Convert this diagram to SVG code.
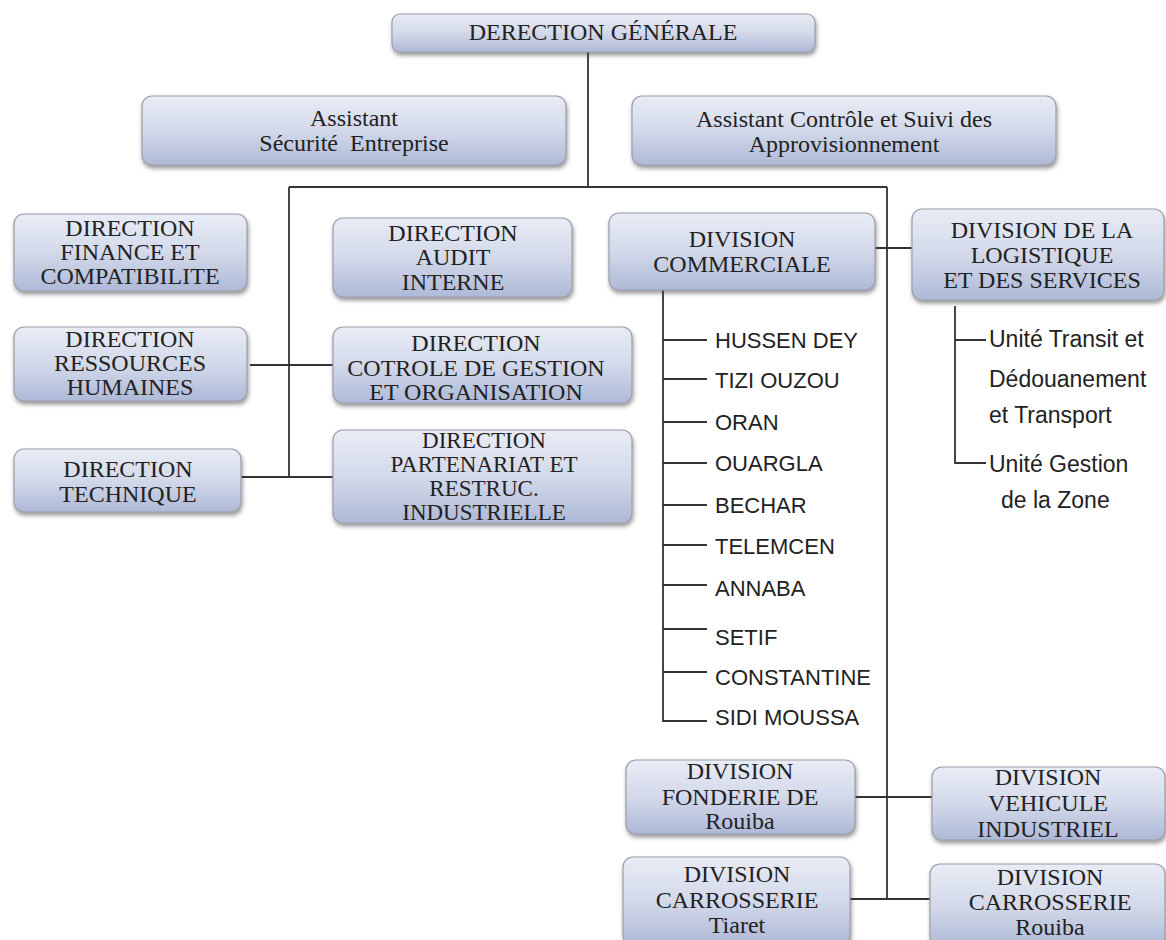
<svg xmlns="http://www.w3.org/2000/svg" width="1166" height="940" viewBox="0 0 1166 940">
<defs>
<linearGradient id="bg" x1="0" y1="0" x2="0" y2="1">
<stop offset="0" stop-color="#e9ecf5"/>
<stop offset="0.5" stop-color="#d3d9ea"/>
<stop offset="1" stop-color="#aeb9d7"/>
</linearGradient>
<filter id="sh" x="-10%" y="-20%" width="120%" height="150%">
<feDropShadow dx="1" dy="3" stdDeviation="2" flood-color="#444" flood-opacity="0.55"/>
</filter>
</defs>
<style>
.box{fill:url(#bg);stroke:#9c9eaa;stroke-width:1.2;filter:url(#sh)}
.t{font-family:"Liberation Serif","Times New Roman",serif;font-size:24px;fill:#222;text-anchor:middle}
.tp{font-size:23px}
.s{font-family:"Liberation Sans",Arial,sans-serif;font-size:22px;fill:#222}
.u{font-size:23px}
.ln{stroke:#333;stroke-width:1.8;fill:none}
</style>
<rect width="1166" height="940" fill="#ffffff"/>
<g id="connectors">
<path class="ln" d="M588 52V187M289 187H887M289 187V477M250 365H333M241 477H333M887 187V899M875 248H912M855 797H932M850 899H930"/>
<path class="ln" d="M663 290V721H707M663 340H707M663 379H707M663 422H707M663 463H707M663 505H707M663 545H707M663 585H707M663 629H707M663 672H707"/>
<path class="ln" d="M955 306V463H986M955 340H986"/>
</g>
<g id="n-dg"><rect class="box" x="392" y="14" width="423" height="38" rx="8"/><text class="t" x="603" y="40">DERECTION GÉNÉRALE</text></g>
<g id="n-asst-securite"><rect class="box" x="142" y="96" width="424" height="69" rx="10"/><text class="t" x="354" y="126">Assistant</text><text class="t" x="354" y="151">Sécurité&#160; Entreprise</text></g>
<g id="n-asst-controle"><rect class="box" x="632" y="96" width="424" height="69" rx="10"/><text class="t" x="844" y="127">Assistant Contrôle et Suivi des</text><text class="t" x="844" y="152">Approvisionnement</text></g>
<g id="n-finance"><rect class="box" x="14" y="214" width="233" height="77" rx="10"/><text class="t" x="130" y="236">DIRECTION</text><text class="t" x="130" y="260">FINANCE ET</text><text class="t" x="130" y="284">COMPATIBILITE</text></g>
<g id="n-rh"><rect class="box" x="14" y="327" width="233" height="74" rx="10"/><text class="t" x="130" y="347">DIRECTION</text><text class="t" x="130" y="371">RESSOURCES</text><text class="t" x="130" y="395">HUMAINES</text></g>
<g id="n-technique"><rect class="box" x="14" y="449" width="227" height="63" rx="10"/><text class="t" x="128" y="477">DIRECTION</text><text class="t" x="128" y="502">TECHNIQUE</text></g>
<g id="n-audit"><rect class="box" x="333" y="218" width="239" height="79" rx="10"/><text class="t" x="453" y="241">DIRECTION</text><text class="t" x="453" y="265">AUDIT</text><text class="t" x="453" y="290">INTERNE</text></g>
<g id="n-cotrole"><rect class="box" x="333" y="327" width="299" height="76" rx="10"/><text class="t" x="476" y="351">DIRECTION</text><text class="t" x="476" y="376">COTROLE DE GESTION</text><text class="t" x="476" y="400">ET ORGANISATION</text></g>
<g id="n-partenariat"><rect class="box" x="333" y="430" width="299" height="93" rx="10"/><text class="t tp" x="484" y="448">DIRECTION</text><text class="t tp" x="484" y="472">PARTENARIAT ET</text><text class="t tp" x="484" y="496">RESTRUC.</text><text class="t tp" x="484" y="520">INDUSTRIELLE</text></g>
<g id="n-commerciale"><rect class="box" x="609" y="213" width="266" height="77" rx="10"/><text class="t" x="742" y="247">DIVISION</text><text class="t" x="742" y="272">COMMERCIALE</text></g>
<g id="n-logistique"><rect class="box" x="912" y="209" width="252" height="91" rx="10"/><text class="t" x="1042" y="238">DIVISION DE LA</text><text class="t" x="1042" y="263">LOGISTIQUE</text><text class="t" x="1042" y="288">ET DES SERVICES</text></g>
<g id="n-unites">
<text class="s" x="715" y="348">HUSSEN DEY</text>
<text class="s" x="715" y="388">TIZI OUZOU</text>
<text class="s" x="715" y="430">ORAN</text>
<text class="s" x="715" y="471">OUARGLA</text>
<text class="s" x="715" y="513">BECHAR</text>
<text class="s" x="715" y="554">TELEMCEN</text>
<text class="s" x="715" y="596">ANNABA</text>
<text class="s" x="715" y="645">SETIF</text>
<text class="s" x="715" y="685">CONSTANTINE</text>
<text class="s" x="715" y="725">SIDI MOUSSA</text>
</g>
<g id="n-unites-logistique">
<text class="s u" x="989" y="347">Unité Transit et</text>
<text class="s u" x="989" y="387">Dédouanement</text>
<text class="s u" x="989" y="423">et Transport</text>
<text class="s u" x="989" y="472">Unité Gestion</text>
<text class="s u" x="1001" y="508">de la Zone</text>
</g>
<g id="n-fonderie"><rect class="box" x="626" y="760" width="229" height="74" rx="10"/><text class="t" x="740" y="779">DIVISION</text><text class="t" x="740" y="805">FONDERIE DE</text><text class="t" x="740" y="829">Rouiba</text></g>
<g id="n-vehicule"><rect class="box" x="932" y="767" width="233" height="73" rx="10"/><text class="t" x="1048" y="785">DIVISION</text><text class="t" x="1048" y="811">VEHICULE</text><text class="t" x="1048" y="837">INDUSTRIEL</text></g>
<g id="n-carr-tiaret"><rect class="box" x="623" y="857" width="227" height="88" rx="10"/><text class="t" x="737" y="882">DIVISION</text><text class="t" x="737" y="908">CARROSSERIE</text><text class="t" x="737" y="933">Tiaret</text></g>
<g id="n-carr-rouiba"><rect class="box" x="930" y="864" width="235" height="84" rx="10"/><text class="t" x="1050" y="885">DIVISION</text><text class="t" x="1050" y="910">CARROSSERIE</text><text class="t" x="1050" y="935">Rouiba</text></g>
</svg>
